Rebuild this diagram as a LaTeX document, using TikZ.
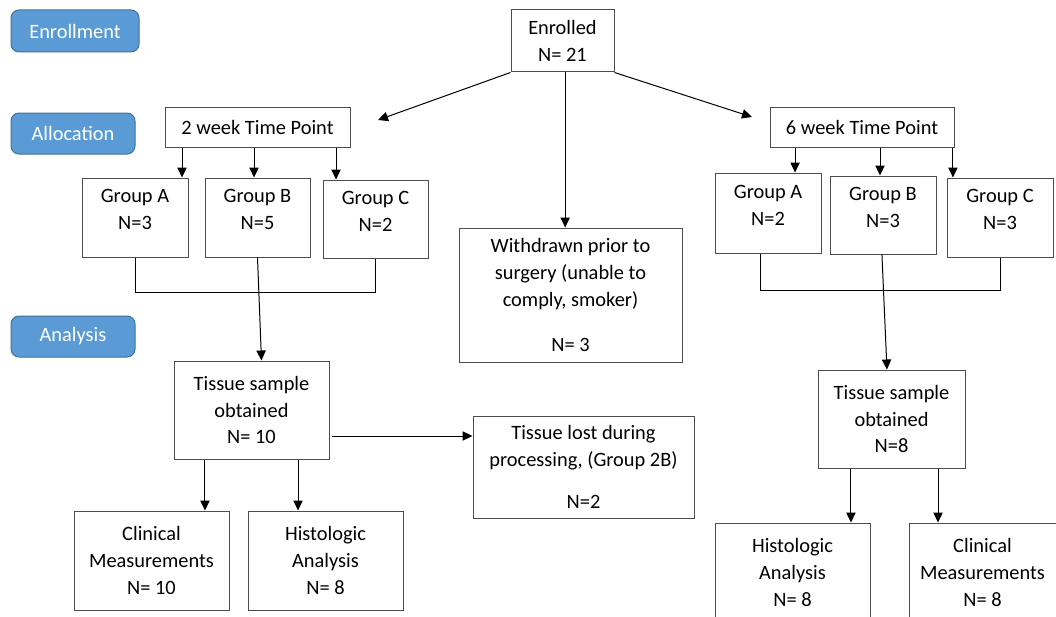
\documentclass[tikz,border=0pt]{standalone}
\usepackage{fontspec}
\setmainfont{Carlito}
\usetikzlibrary{arrows.meta}
\definecolor{stageblue}{HTML}{5B9BD5}
\definecolor{stageedge}{HTML}{41719C}
\tikzset{%
  >={Triangle[width=7pt,length=7.5pt]},
  % Specifications for style of nodes:
      boxwh/.style 2 args = {minimum width=#1*0.75pt, minimum height=#2*0.75pt},
           base/.style = {rectangle, draw=black!70, line width=0.75pt,
                          inner sep=2pt, text centered, align=center,
                          font=\fontsize{15.3}{20.2}\selectfont},
  stage/.style = {base, rounded corners=6pt, fill=stageblue,
                  draw=stageedge, text=white},
       flow/.style = {base, fill=white},
      group/.style = {flow, text depth=12pt},
}

\begin{document}
\begin{tikzpicture}[x=0.75pt, y=-0.75pt, line width=0.75pt]
\clip (0,0) rectangle (1056,617);
% Stage labels on the left
\node (enrollment) [stage, boxwh={128}{42}] at (75,31)    {Enrollment};
\node (allocation) [stage, boxwh={124}{41}] at (73,133.5) {Allocation};
\node (analysis)   [stage, boxwh={124}{41}] at (73,336.5) {Analysis};
% Specification of nodes (position, etc.)
\node (enr)  [flow, boxwh={103}{62}]  at (562.5,41) {Enrolled\\ N= 21};
\node (tp2)  [flow, boxwh={185}{40}]  at (257.5,127) {2 week Time Point};
\node (tp6)  [flow, boxwh={184}{40}]  at (862,127)   {6 week Time Point};
\node (gA2)  [group, boxwh={106}{79}] at (135,217.5)   {Group A\\ N=3};
\node (gB2)  [group, boxwh={105}{79}] at (257.5,217.5) {Group B\\ N=5};
\node (gC2)  [group, boxwh={105}{78}] at (375.5,219)   {Group C\\ N=2};
\node (gA6)  [group, boxwh={106}{80}] at (768,213)     {Group A\\ N=2};
\node (gB6)  [group, boxwh={106}{78}] at (883,215)     {Group B\\ N=3};
\node (gC6)  [group, boxwh={106}{79}] at (1000,217.5)  {Group C\\ N=3};
\node (wd)   [flow, boxwh={223}{134}] at (570.5,295)
      {Withdrawn prior to\\ surgery (unable to\\ comply, smoker)\\[13pt] N= 3};
\node (ts2)  [flow, boxwh={155}{98}]  at (251.5,410) {Tissue sample\\ obtained\\ N= 10};
\node (lost) [flow, boxwh={221}{102}] at (583.5,467)
      {Tissue lost during\\ processing, (Group 2B)\\[11pt] N=2};
\node (cl2)  [flow, boxwh={155}{99}]  at (151.5,560.5) {Clinical\\ Measurements\\ N= 10};
\node (hi2)  [flow, boxwh={155}{99}]  at (325.5,560.5) {Histologic\\ Analysis\\ N= 8};
\node (ts6)  [flow, boxwh={147}{98}]  at (891.5,419)   {Tissue sample\\ obtained\\ N=8};
\node (hi6)  [flow, boxwh={155}{99}]  at (792.5,572.5) {Histologic\\ Analysis\\ N= 8};
\node (cl6)  [flow, boxwh={147}{99}]  at (982.5,572.5) {Clinical\\ Measurements\\ N= 8};
% free ends of the two slanted arrows
\coordinate (tip2) at (378,120);
\coordinate (tip6) at (752,117);
% Specification of lines between nodes specified above
\draw[->] (enr.south west) -- (tip2);
\draw[->] (enr.south east) -- (tip6);
\draw[->] ([xshift=2pt]enr.south) -- ([xshift=2pt]enr.south |- wd.north);
\draw[->] ([xshift=-56.6pt]tp2.south) -- ([xshift=-56.6pt]tp2.south |- gA2.north);
\draw[->] ([xshift=-2.6pt]tp2.south)  -- ([xshift=-2.6pt]tp2.south |- gB2.north);
\draw[->] ([xshift=58.9pt]tp2.south)  -- ([xshift=58.9pt]tp2.south |- gC2.north);
\draw[->] ([xshift=-50.2pt]tp6.south) -- ([xshift=-50.2pt]tp6.south |- gA6.north);
\draw[->] ([xshift=13.5pt]tp6.south)  -- ([xshift=13.5pt]tp6.south |- gB6.north);
\draw[->] ([xshift=68.2pt]tp6.south)  -- ([xshift=68.2pt]tp6.south |- gC6.north);
\draw (gA2.south) -- ++(0,35) -| (gC2.south);
\draw[->] (gB2.south) -- ([xshift=7.5pt]ts2.north);
\draw ([xshift=-6pt]gA6.south) -- ++(0,37) -| (gC6.south);
\draw[->] ([xshift=-0.8pt]gB6.south) -- ([xshift=-3.4pt]ts6.north);
\draw[->] ([xshift=2pt,yshift=-19.5pt]ts2.east) -- ([yshift=-19.5pt]ts2.east -| lost.west);
\draw[->] ([xshift=-34.9pt]ts2.south) -- ([xshift=-34.9pt]ts2.south |- cl2.north);
\draw[->] ([xshift=34.9pt]ts2.south)  -- ([xshift=34.9pt]ts2.south |- hi2.north);
\draw[->] ([xshift=-30.4pt]ts6.south) -- ([xshift=-30.4pt]ts6.south |- hi6.north);
\draw[->] ([xshift=34.9pt]ts6.south)  -- ([xshift=34.9pt]ts6.south |- cl6.north);
\end{tikzpicture}
\end{document}
